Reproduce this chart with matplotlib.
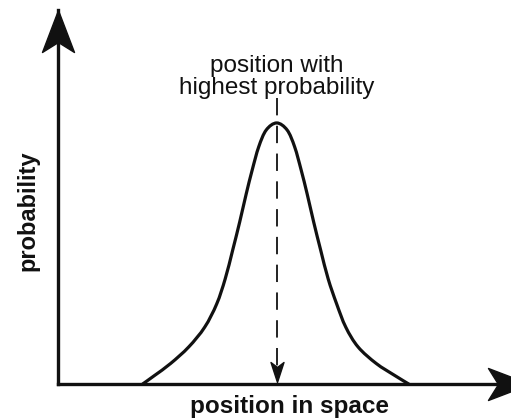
import numpy as np
from matplotlib import pyplot as plt
from matplotlib.path import Path
from matplotlib.patches import PathPatch

plt.rcParams['font.family'] = ['Liberation Sans', 'DejaVu Sans']
plt.rcParams['lines.scale_dashes'] = False

# Probability curve over position (arbitrary units), traced point by point
position = [1.794, 2.048, 2.387, 2.769, 3.108, 3.362, 3.542, 3.701, 3.849,
            3.987, 4.114, 4.252, 4.411, 4.633, 4.855, 5.014, 5.152, 5.279,
            5.417, 5.565, 5.724, 5.904, 6.097, 6.358, 6.741, 7.132, 7.430]
probability = [0.000, 0.023, 0.055, 0.099, 0.152, 0.214, 0.281, 0.358, 0.433,
               0.508, 0.572, 0.634, 0.679, 0.698, 0.679, 0.634, 0.572, 0.508,
               0.433, 0.358, 0.281, 0.214, 0.152, 0.099, 0.055, 0.023, 0.000]

peak_label = 'position with\nhighest probability'
x_label = 'position in space'
y_label = 'probability'

INK = '#111111'


def head(length, half, notch, direction):
    # barbed arrow head with its tip at (0, 0)
    if direction == 'right':
        v = [[0, 0], [-length, half], [-notch, 0], [-length, -half], [0, 0]]
    elif direction == 'up':
        v = [[0, 0], [-half, -length], [0, -notch], [half, -length], [0, 0]]
    else:
        v = [[0, 0], [-half, length], [0, notch], [half, length], [0, 0]]
    codes = [Path.MOVETO, Path.LINETO, Path.LINETO, Path.LINETO, Path.CLOSEPOLY]
    return Path(np.array(v, float), codes)


def smooth_path(x, y):
    # cubic Bezier segments through the traced points (Catmull-Rom tangents)
    p = np.column_stack([x, y])
    ext = np.vstack([p[0], p, p[-1]])
    verts = [p[0]]
    codes = [Path.MOVETO]
    for i in range(1, len(ext) - 2):
        c1 = ext[i] + (ext[i + 1] - ext[i - 1]) / 6
        c2 = ext[i + 1] - (ext[i + 2] - ext[i]) / 6
        verts += [c1, c2, ext[i + 1]]
        codes += [Path.CURVE4] * 3
    return Path(np.array(verts), codes)


fig = plt.figure(figsize=(5.11, 4.20), dpi=100)
ax = fig.add_axes([58 / 511, 36 / 420, 472 / 511, 374 / 420])
ax.set_xlim(0, 10)
ax.set_ylim(0, 1)

for side in ['top', 'right']:
    ax.spines[side].set_visible(False)
for side in ['left', 'bottom']:
    ax.spines[side].set_linewidth(2.4)
    ax.spines[side].set_color(INK)
ax.set_xticks([])
ax.set_yticks([])

# arrow heads at the ends of both axes (84 px marker -> 42 px head)
ms = 84 * 72 / 100
ax.plot(1, 0, marker=head(42, 16, 32, 'right'), ms=ms, color=INK,
        transform=ax.transAxes, clip_on=False)
ax.plot(0, 1, marker=head(42, 16, 32, 'up'), ms=ms, color=INK,
        transform=ax.transAxes, clip_on=False)

ax.add_patch(PathPatch(smooth_path(position, probability), fill=False,
                       edgecolor=INK, lw=2.3, joinstyle='round',
                       capstyle='round', clip_on=False))

# dashed pointer from the label down to the peak position
peak_x = position[int(np.argmax(probability))]
ax.plot([peak_x, peak_x], [0.765, 0.04], color=INK, lw=1.3,
        linestyle=(0, (12.5, 7.5)))
ax.plot(peak_x, 0.006, marker=head(20, 6.5, 15, 'down'), ms=40 * 72 / 100,
        color=INK, clip_on=False)

ax.text(peak_x, 0.762, peak_label, ha='center', va='bottom',
        fontsize=17.5, linespacing=1.0, color=INK)

ax.set_xlabel(x_label, fontsize=17.5, fontweight='bold', color=INK)
ax.xaxis.set_label_coords((290 - 58) / 472, -0.03)
ax.set_ylabel(y_label, fontsize=17, fontweight='bold', color=INK)
ax.yaxis.set_label_coords((39 - 58) / 472, (384 - 211) / 374)

fig.savefig('out.png', dpi=100)
